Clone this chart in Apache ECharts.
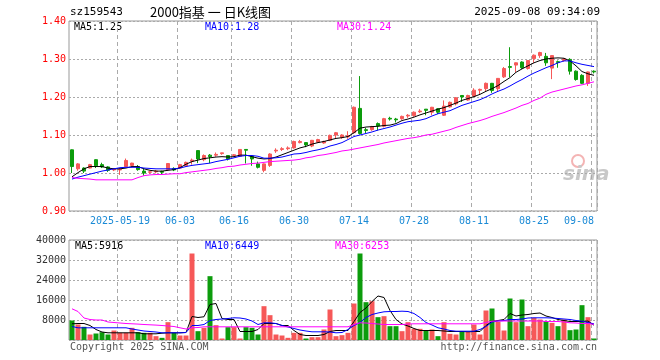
<!DOCTYPE html>
<html><head><meta charset="utf-8">
<script src="https://cdn.jsdelivr.net/npm/echarts@6/dist/echarts.min.js"></script>
<style>html,body{margin:0;padding:0;background:#fff}#c{width:660px;height:360px}</style>
</head><body><div id="c"></div>
<script>
const dates = [
'2025-05-07','2025-05-08','2025-05-09','2025-05-12','2025-05-13','2025-05-14','2025-05-15','2025-05-16',
'2025-05-19','2025-05-20','2025-05-21','2025-05-22','2025-05-23','2025-05-26','2025-05-27','2025-05-28','2025-05-29','2025-05-30',
'2025-06-03','2025-06-04','2025-06-05','2025-06-06','2025-06-09','2025-06-10','2025-06-11','2025-06-12','2025-06-13',
'2025-06-16','2025-06-17','2025-06-18','2025-06-19','2025-06-20','2025-06-23','2025-06-24','2025-06-25','2025-06-26','2025-06-27',
'2025-06-30','2025-07-01','2025-07-02','2025-07-03','2025-07-04','2025-07-07','2025-07-08','2025-07-09','2025-07-10','2025-07-11',
'2025-07-14','2025-07-15','2025-07-16','2025-07-17','2025-07-18','2025-07-21','2025-07-22','2025-07-23','2025-07-24','2025-07-25',
'2025-07-28','2025-07-29','2025-07-30','2025-07-31','2025-08-01','2025-08-04','2025-08-05','2025-08-06','2025-08-07','2025-08-08',
'2025-08-11','2025-08-12','2025-08-13','2025-08-14','2025-08-15','2025-08-18','2025-08-19','2025-08-20','2025-08-21','2025-08-22',
'2025-08-25','2025-08-26','2025-08-27','2025-08-28','2025-08-29','2025-09-01','2025-09-02','2025-09-03','2025-09-04','2025-09-05',
'2025-09-08'];
const tickDates = ['2025-05-19','2025-06-03','2025-06-16','2025-06-30','2025-07-14','2025-07-28','2025-08-11','2025-08-25','2025-09-08'];
const tickLabels = ['2025-05-19','06-03','06-16','06-30','07-14','07-28','08-11','08-25','09-08'];

const opens = [
1.061,1.011,1.013,1.013,1.035,1.022,1.016,1.008,1.008,1.017,
1.020,1.017,1.005,1.002,1.003,1.004,1.009,1.012,1.013,1.019,
1.031,1.059,1.035,1.047,1.047,1.051,1.046,1.046,1.044,1.062,
1.044,1.024,1.007,1.020,1.058,1.062,1.064,1.066,1.080,1.080,
1.071,1.081,1.079,1.086,1.100,1.094,1.095,1.106,1.170,1.114,
1.114,1.130,1.123,1.144,1.142,1.143,1.150,1.151,1.161,1.168,
1.160,1.169,1.152,1.174,1.182,1.204,1.192,1.202,1.218,1.222,
1.236,1.222,1.253,1.280,1.284,1.292,1.275,1.301,1.309,1.307,
1.276,1.293,1.296,1.299,1.268,1.257,1.236,1.268];
const closes = [
1.017,1.024,1.005,1.022,1.019,1.016,1.007,1.011,1.010,1.033,
1.026,1.009,1.000,1.003,1.005,1.002,1.025,1.008,1.022,1.028,
1.034,1.037,1.046,1.043,1.049,1.053,1.037,1.048,1.062,1.060,
1.037,1.015,1.024,1.050,1.060,1.064,1.066,1.083,1.083,1.074,
1.086,1.088,1.083,1.099,1.106,1.100,1.098,1.173,1.104,1.112,
1.122,1.124,1.143,1.142,1.140,1.149,1.152,1.160,1.163,1.165,
1.173,1.160,1.176,1.186,1.198,1.200,1.204,1.218,1.220,1.236,
1.217,1.249,1.275,1.278,1.290,1.277,1.296,1.310,1.317,1.290,
1.309,1.291,1.300,1.268,1.246,1.236,1.266,1.266];
const lows = [
1.000,1.006,1.000,1.012,1.013,1.013,1.003,1.005,0.995,1.016,
1.015,1.006,0.993,0.998,0.999,0.997,1.006,1.005,1.012,1.017,
1.022,1.026,1.031,1.026,1.043,1.048,1.033,1.044,1.042,1.025,
1.019,1.012,1.002,1.016,1.053,1.058,1.060,1.064,1.078,1.068,
1.068,1.079,1.077,1.084,1.090,1.090,1.090,1.104,1.101,1.105,
1.111,1.112,1.120,1.138,1.133,1.140,1.145,1.148,1.158,1.152,
1.152,1.155,1.150,1.172,1.178,1.187,1.190,1.200,1.207,1.215,
1.211,1.215,1.250,1.252,1.265,1.274,1.272,1.290,1.303,1.282,
1.247,1.277,1.293,1.259,1.243,1.234,1.229,1.262];
const highs = [
1.062,1.026,1.015,1.024,1.036,1.027,1.018,1.013,1.013,1.038,
1.027,1.021,1.013,1.005,1.008,1.006,1.025,1.015,1.024,1.030,
1.038,1.059,1.049,1.050,1.054,1.053,1.046,1.050,1.062,1.062,
1.045,1.030,1.025,1.052,1.065,1.068,1.070,1.085,1.087,1.081,
1.087,1.090,1.085,1.101,1.108,1.102,1.110,1.175,1.255,1.119,
1.124,1.133,1.145,1.148,1.145,1.151,1.155,1.162,1.168,1.168,
1.174,1.171,1.191,1.188,1.200,1.205,1.206,1.223,1.222,1.238,
1.237,1.250,1.279,1.331,1.291,1.294,1.297,1.312,1.319,1.316,
1.310,1.296,1.302,1.302,1.270,1.260,1.267,1.270];
const volumes = [
7800,6200,5270,2200,2600,3130,2200,3800,2870,2870,
4870,3130,2870,2870,1530,870,7130,2870,1800,1800,
34600,3530,4870,25530,5930,600,5130,5130,600,5130,
4870,2200,13530,9930,2200,1800,870,2870,2870,600,
1130,1130,4200,12200,1530,1930,2870,14600,34600,15130,
15530,9130,9530,5530,5530,3530,7130,4470,4470,3800,
4200,1530,7130,2470,2200,3270,3270,6200,2200,11800,
12600,7270,3800,16600,7130,16200,5530,8870,8200,7530,
6870,5530,8200,3930,4200,13930,9130,600];
const ma5 = [
0.990,1.001,1.011,1.017,1.017,1.017,1.013,1.011,1.011,1.013,
1.017,1.017,1.011,1.007,1.005,1.005,1.007,1.009,1.014,1.023,
1.030,1.034,1.038,1.040,1.042,1.043,1.042,1.043,1.047,1.047,
1.043,1.039,1.037,1.038,1.042,1.048,1.054,1.060,1.066,1.070,
1.076,1.080,1.083,1.087,1.091,1.093,1.096,1.106,1.118,1.121,
1.122,1.123,1.125,1.126,1.130,1.138,1.142,1.147,1.153,1.158,
1.163,1.168,1.172,1.178,1.184,1.191,1.196,1.201,1.207,1.215,
1.222,1.230,1.241,1.251,1.265,1.274,1.282,1.290,1.296,1.300,
1.302,1.303,1.302,1.295,1.282,1.267,1.261,1.257];
const ma10 = [
0.984,0.989,0.993,0.997,1.001,1.005,1.008,1.011,1.014,1.015,
1.015,1.015,1.013,1.012,1.011,1.011,1.011,1.011,1.013,1.017,
1.020,1.022,1.024,1.026,1.030,1.033,1.036,1.040,1.044,1.046,
1.046,1.044,1.039,1.039,1.040,1.042,1.046,1.050,1.051,1.054,
1.058,1.061,1.065,1.071,1.075,1.080,1.088,1.096,1.100,1.104,
1.108,1.113,1.117,1.121,1.126,1.131,1.135,1.137,1.139,1.143,
1.150,1.156,1.160,1.164,1.171,1.178,1.183,1.188,1.193,1.200,
1.208,1.215,1.221,1.229,1.238,1.246,1.255,1.263,1.270,1.277,
1.283,1.290,1.295,1.295,1.290,1.286,1.283,1.280];
const ma30 = [
0.988,0.986,0.985,0.984,0.982,0.982,0.982,0.982,0.982,0.982,
0.982,0.988,0.993,0.995,0.996,0.996,0.997,0.998,0.998,1.001,
1.003,1.005,1.007,1.009,1.012,1.014,1.017,1.018,1.021,1.023,
1.025,1.026,1.028,1.030,1.031,1.032,1.033,1.034,1.036,1.040,
1.042,1.046,1.048,1.051,1.054,1.058,1.060,1.063,1.066,1.069,
1.072,1.075,1.079,1.082,1.085,1.088,1.091,1.093,1.096,1.100,
1.102,1.106,1.110,1.114,1.120,1.125,1.130,1.134,1.138,1.143,
1.149,1.154,1.159,1.165,1.171,1.178,1.183,1.191,1.197,1.207,
1.213,1.217,1.221,1.225,1.229,1.232,1.236,1.240];
const vma5 = [
6480,6600,6600,5800,4200,3200,2880,2880,2880,2880,
2880,2880,2480,2480,2480,2720,2880,2880,2880,3000,
9400,9000,9300,14200,14600,8600,8200,8200,3400,3400,
3400,4200,6600,6600,6600,5800,5800,3800,2200,1800,
1800,1800,2200,3400,3800,3800,3800,7400,11000,12800,
15400,17600,17000,11800,8200,6400,5600,4600,3800,3800,
3800,3800,3600,3400,3400,3400,3300,3400,3400,5800,
7400,7800,8200,10600,9600,10000,10200,10600,10800,9600,
9000,8200,7800,7400,7400,7400,7600,5916];
const vma10 = [
5400,4880,4880,4880,4880,4880,4880,4880,4880,4880,
4400,4000,3600,3400,3200,2880,2880,2880,2880,3000,
5800,5800,6200,7800,8200,8400,8600,8880,8800,8400,
7600,6200,6880,6880,6600,5800,5200,4600,4000,3600,
3280,3280,3280,3200,2880,3000,4200,5800,7000,9000,
10200,10800,11280,11400,11400,11520,11400,10600,9000,7000,
6000,4880,4400,3800,3520,3520,3520,3520,4200,5400,
7200,7600,7800,8200,8200,8400,8800,8880,8880,8880,
8800,8600,8400,8200,7800,7520,7000,6449];
const vma30 = [
12480,11400,8800,8200,8000,8000,7200,7000,6800,6600,
6480,6360,6200,6080,5960,5800,5600,5400,4880,4400,
4880,5000,5280,5280,5280,5280,5280,5280,5280,5280,
5280,5280,5280,5280,5280,5280,5280,5280,5280,5280,
5280,5280,5280,5280,5280,5280,5280,6200,6880,6800,
6600,6400,6200,6200,6200,6200,6400,6480,6480,6480,
6480,6480,6480,6480,6480,6480,6480,6480,6480,7000,
7520,7600,7600,7600,7600,7600,7600,7600,7600,7400,
7400,7400,7200,6880,6800,6600,6600,6253];
const priceLegend = ['MA5:1.25','MA10:1.28','MA30:1.24'];
const volLegend = ['MA5:5916','MA10:6449','MA30:6253'];

const mono = '"DejaVu Sans Mono","Liberation Mono",monospace';
const upColor = '#f65858', downColor = '#0c9c0c';
const kData = opens.map((o, i) => [o, closes[i], lows[i], highs[i]]);
const volData = volumes.map((v, i) => ({value: v, itemStyle: {color: closes[i] >= opens[i] ? upColor : downColor}}));
const showTick = (i, v) => tickDates.indexOf(v) >= 0;
const vSplit = {show: true, interval: showTick, lineStyle: {color: '#aaa', type: [4, 3], width: 1}};
const hSplit = {show: true, lineStyle: {color: '#aaa', type: [2, 2], width: 1}};
const lineS = (name, data, color, xi, yi) => ({name, type: 'line', data, xAxisIndex: xi, yAxisIndex: yi, showSymbol: false, symbol: 'none', lineStyle: {color, width: 1}, z: 5, silent: true});
const txt = (text, x, y, color, font, align) => ({type: 'text', x, y, silent: true, style: {text, fill: color, font, textAlign: align || 'left', textVerticalAlign: 'middle', align: align || 'left', verticalAlign: 'middle'}});

const chart = echarts.init(document.getElementById('c'));
chart.setOption({
  animation: false,
  backgroundColor: '#fff',
  grid: [
    {left: 69, top: 21, width: 528, height: 190, show: true, borderColor: '#999', borderWidth: 1},
    {left: 69, top: 240, width: 528, height: 100, show: true, borderColor: '#999', borderWidth: 1}
  ],
  xAxis: [
    {type: 'category', gridIndex: 0, data: dates, boundaryGap: true,
     axisLine: {show: false}, axisTick: {show: false},
     axisLabel: {interval: showTick, formatter: v => tickLabels[tickDates.indexOf(v)], color: '#1a8ad6', fontFamily: mono, fontSize: 10, margin: 5, alignMaxLabel: 'right'},
     splitLine: vSplit},
    {type: 'category', gridIndex: 1, data: dates, boundaryGap: true,
     axisLine: {show: false}, axisTick: {show: false}, axisLabel: {show: false}, splitLine: vSplit}
  ],
  yAxis: [
    {type: 'value', gridIndex: 0, min: 0.9, max: 1.4, interval: 0.1, scale: true,
     axisLine: {show: false}, axisTick: {show: false},
     axisLabel: {color: '#ff0000', formatter: v => v.toFixed(2), fontFamily: mono, fontSize: 10, margin: 3},
     splitLine: hSplit},
    {type: 'value', gridIndex: 1, min: 0, max: 40000, interval: 8000,
     axisLine: {show: false}, axisTick: {show: false},
     axisLabel: {color: '#333', formatter: v => v === 0 ? '' : String(v), fontFamily: mono, fontSize: 10, margin: 3},
     splitLine: hSplit}
  ],
  series: [
    {name: 'K', type: 'candlestick', data: kData, xAxisIndex: 0, yAxisIndex: 0, barWidth: 4,
     itemStyle: {color: upColor, color0: downColor, borderColor: upColor, borderColor0: downColor, borderWidth: 1}, silent: true},
    lineS('MA5', ma5, '#000000', 0, 0),
    lineS('MA10', ma10, '#0000ff', 0, 0),
    lineS('MA30', ma30, '#ff00ff', 0, 0),
    {name: 'VOL', type: 'bar', data: volData, xAxisIndex: 1, yAxisIndex: 1, barWidth: 5, silent: true},
    lineS('VMA5', vma5, '#000000', 1, 1),
    lineS('VMA10', vma10, '#0000ff', 1, 1),
    lineS('VMA30', vma30, '#ff00ff', 1, 1)
  ],
  graphic: [
    txt('sz159543', 70, 12, '#000', '11px ' + mono),
    txt('2000指基 一 日K线图', 150, 12, '#000', '13px "Noto Sans CJK SC"'),
    txt('2025-09-08 09:34:09', 600, 12, '#000', '11px ' + mono, 'right'),
    txt(priceLegend[0], 74, 27, '#000', '10px ' + mono),
    txt(priceLegend[1], 205, 27, '#0000ff', '10px ' + mono),
    txt(priceLegend[2], 337, 27, '#ff00ff', '10px ' + mono),
    txt(volLegend[0], 75, 246, '#000', '10px ' + mono),
    txt(volLegend[1], 205, 246, '#0000ff', '10px ' + mono),
    txt(volLegend[2], 335, 246, '#ff00ff', '10px ' + mono),
    txt('Copyright 2025 SINA.COM', 70, 347, '#555', '10px ' + mono),
    txt('http://finance.sina.com.cn', 597, 347, '#555', '10px ' + mono, 'right'),
    {type: 'circle', shape: {cx: 578, cy: 161, r: 6}, style: {fill: 'none', stroke: '#f4b4b4', lineWidth: 2}, silent: true},
    txt('sina', 563, 175, '#c8c8c8', 'italic bold 20px "DejaVu Sans"')
  ]
});
</script></body></html>
